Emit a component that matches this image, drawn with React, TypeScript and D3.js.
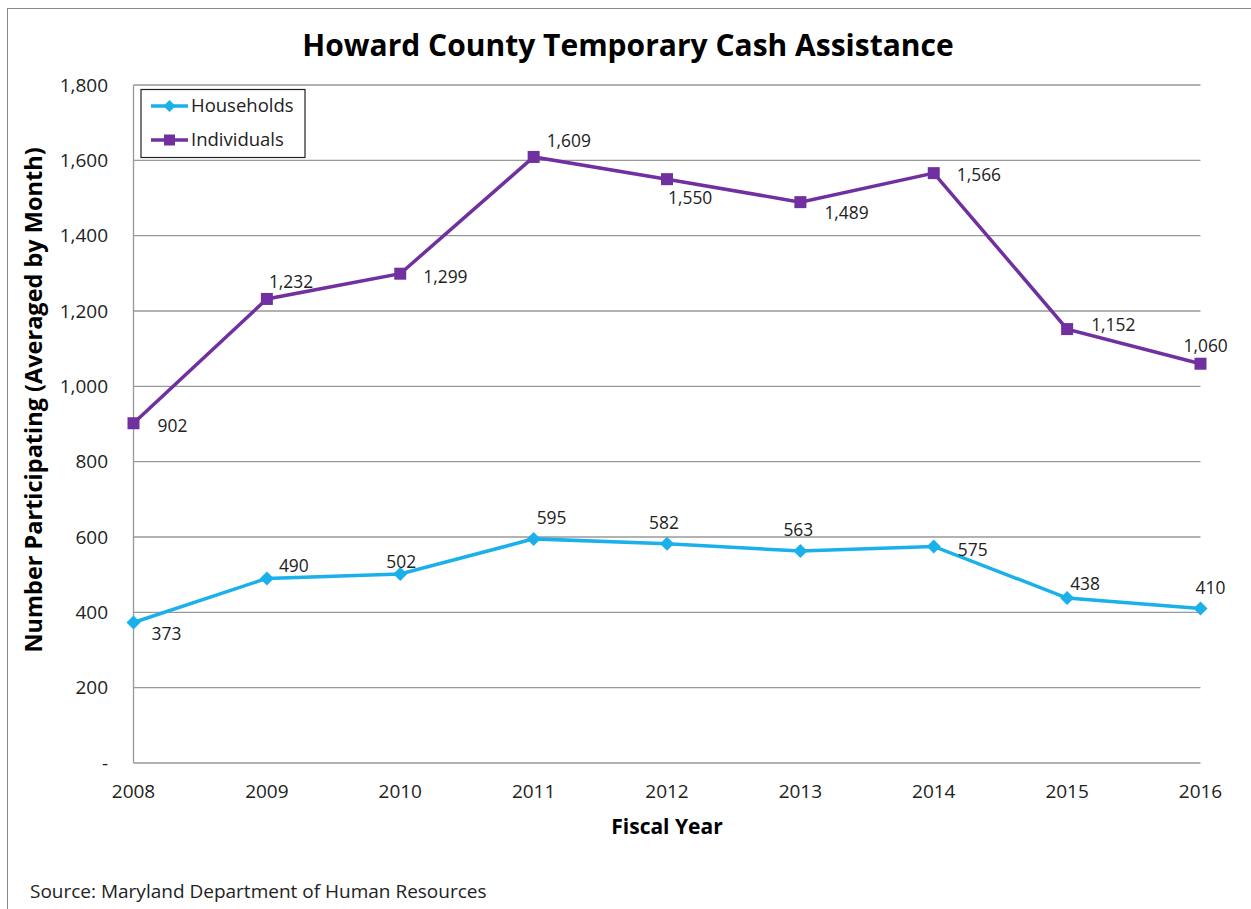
import React from "react";
import * as d3 from "d3";

const years = ["2008", "2009", "2010", "2011", "2012", "2013", "2014", "2015", "2016"];
const households = [373, 490, 502, 595, 582, 563, 575, 438, 410];
const individuals = [902, 1232, 1299, 1609, 1550, 1489, 1566, 1152, 1060];
const yTicks = [0, 200, 400, 600, 800, 1000, 1200, 1400, 1600, 1800];
const seriesNames = ["Households", "Individuals"];

// label placement (offset from point, text-anchor start)
const hhLabelOffsets: [number, number][] = [
  [18, 11], [12, -13], [-14, -12], [3, -21], [-18, -21], [-17, -21], [24, 3], [3, -14], [-5, -21],
];
const indLabelOffsets: [number, number][] = [
  [24, 3], [2, -17], [23, 3], [13, -16], [1, 19], [24, 11], [23, 2], [24, -4], [-17, -18],
];

const FONT = "'Open Sans', 'DejaVu Sans', sans-serif";

export default function App() {
  const W = 1251, H = 909;
  const left = 133.5, right = 1200.5, top = 85, bottom = 763;
  const x = d3.scalePoint<string>().domain(years).range([left, right]);
  const y = d3.scaleLinear().domain([0, 1800]).range([bottom, top]);
  const line = d3.line<number>().x((_, i) => x(years[i])!).y((d) => y(d));
  const blue = "#1AB0EA";
  const purple = "#7030A0";
  const fmt = d3.format(",");

  const diamond = (cx: number, cy: number, r: number) =>
    `M${cx},${cy - r}L${cx + r},${cy}L${cx},${cy + r}L${cx - r},${cy}Z`;

  return (
    <svg width={W} height={H} style={{ position: "absolute", left: 0, top: 0, background: "#fff" }}>
      <rect x={7.5} y={8.5} width={W + 10} height={H + 10} fill="#fff" stroke="#888" strokeWidth={1} />
      <text x={628} y={56} textAnchor="middle" fontFamily={FONT} fontWeight="bold" fontSize={30} fill="#000">
        Howard County Temporary Cash Assistance
      </text>
      {/* gridlines */}
      {yTicks.map((t) => (
        <line key={t} x1={left} x2={right} y1={y(t)} y2={y(t)} stroke="#999" strokeWidth={1.3} />
      ))}
      <line x1={left} x2={left} y1={top} y2={bottom} stroke="#999" strokeWidth={1.3} />
      {/* y tick labels */}
      {yTicks.map((t) => (
        <text key={t} x={108} y={y(t)} dy="0.35em" textAnchor="end" fontFamily={FONT} fontSize={19} fill="#222">
          {t === 0 ? "-" : fmt(t)}
        </text>
      ))}
      {/* x tick labels */}
      {years.map((yr) => (
        <text key={yr} x={x(yr)} y={791} dy="0.35em" textAnchor="middle" fontFamily={FONT} fontSize={19} fill="#222">
          {yr}
        </text>
      ))}
      <text x={667} y={827} dy="0.35em" textAnchor="middle" fontFamily={FONT} fontWeight="bold" fontSize={21} fill="#000">
        Fiscal Year
      </text>
      <text
        transform={`translate(34,400) rotate(-90)`}
        textAnchor="middle"
        dy="0.35em"
        fontFamily={FONT}
        fontWeight="bold"
        fontSize={23.5}
        fill="#000"
      >
        Number Participating  (Averaged by Month)
      </text>
      <text x={30} y={891} dy="0.35em" fontFamily={FONT} fontSize={19} fill="#222">
        Source: Maryland Department of Human Resources
      </text>

      {/* lines */}
      <path d={line(individuals)!} fill="none" stroke={purple} strokeWidth={3.5} />
      <path d={line(households)!} fill="none" stroke={blue} strokeWidth={3.5} />
      {individuals.map((v, i) => (
        <rect key={i} x={x(years[i])! - 6} y={y(v) - 6} width={12} height={12} fill={purple} />
      ))}
      {households.map((v, i) => (
        <path key={i} d={diamond(x(years[i])!, y(v), 7)} fill={blue} />
      ))}
      {/* data labels */}
      {individuals.map((v, i) => (
        <text key={i} x={x(years[i])! + indLabelOffsets[i][0]} y={y(v) + indLabelOffsets[i][1]} dy="0.35em"
          fontFamily={FONT} fontSize={17.4} fill="#222">
          {fmt(v)}
        </text>
      ))}
      {households.map((v, i) => (
        <text key={i} x={x(years[i])! + hhLabelOffsets[i][0]} y={y(v) + hhLabelOffsets[i][1]} dy="0.35em"
          fontFamily={FONT} fontSize={17.4} fill="#222">
          {fmt(v)}
        </text>
      ))}

      {/* legend */}
      <rect x={141} y={89.5} width={164} height={68} fill="#fff" stroke="#222" strokeWidth={1.2} />
      {seriesNames.map((name, i) => {
        const ly = 106 + i * 34;
        const c = i === 0 ? blue : purple;
        return (
          <g key={name}>
            <line x1={151} x2={188} y1={ly} y2={ly} stroke={c} strokeWidth={3.5} />
            {i === 0 ? <path d={diamond(169.5, ly, 6)} fill={c} /> : <rect x={164} y={ly - 5.5} width={11} height={11} fill={c} />}
            <text x={191} y={ly} dy="0.35em" fontFamily={FONT} fontSize={18.5} fill="#222">
              {name}
            </text>
          </g>
        );
      })}
    </svg>
  );
}
